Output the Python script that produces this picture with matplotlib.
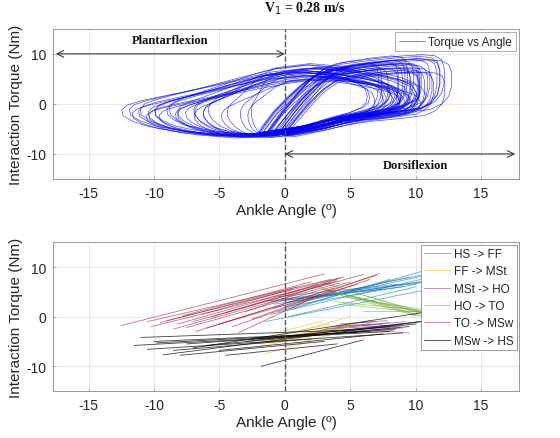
import numpy as np
import matplotlib
matplotlib.use("Agg")
import matplotlib.pyplot as plt

# ---------------- data ----------------
TITLE = "V$_1$ = 0.28 m/s"
XTICKS = [-15, -10, -5, 0, 5, 10, 15]
YTICKS = [-10, 0, 10]

# base gait loop outline (ankle angle, torque)
BASE_X = [-1.0, -0.6, 0.2, 1.2, 2.2, 3.2, 4.5, 6.5, 8.5, 10.3, 11.3, 11.8, 12.0, 12.0,
          11.8, 11.3, 10.5, 8.5, 6.0, 4.0, 2.0, 0.0, -2.0, -5.0, -8.0, -10.0, -11.2,
          -11.9, -12.0, -11.6, -10.6, -9.0, -6.0, -3.0, -0.5, 2.0, 4.5, 7.0, 8.8, 9.8,
          10.2, 10.0, 9.2, 7.5, 5.0, 2.5, 0.8, -0.3, -1.0]
BASE_Y = [-6.0, -4.5, -1.8, 1.2, 3.8, 5.6, 6.5, 7.1, 7.6, 7.9, 7.7, 7.0, 5.5, 3.0,
          1.0, -0.5, -1.5, -2.2, -2.8, -3.6, -4.8, -5.6, -6.3, -6.4, -5.7, -4.8, -3.8,
          -2.7, -1.6, -0.7, 0.1, 1.0, 2.6, 4.3, 5.6, 6.3, 5.8, 4.8, 3.8, 2.8, 1.2,
          0.0, -1.0, -2.0, -3.0, -4.5, -5.5, -6.1, -6.0]

# per-cycle extents / offsets
CYC_LEFT = [12.5, 11.5, 11.3, 11.0, 10.6, 10.2, 10.0, 9.5, 9.2, 8.8, 8.5, 8.0, 7.6, 7.2,
            6.8, 6.3, 5.8, 5.0, 4.2, 3.5, 11.8, 10.8, 9.8, 8.2, 7.0, 6.0, 3.0, 2.5]
CYC_RIGHT = [12.7, 11.4, 10.2, 11.9, 10.0, 9.8, 11.0, 10.4, 9.0, 12.2, 8.5, 10.6, 9.6, 11.6,
             8.0, 10.1, 9.4, 11.2, 7.6, 10.8, 9.9, 12.0, 8.8, 10.3, 11.5, 9.2, 10.5, 7.2]
CYC_DX = [0.2, -0.8, 0.6, -0.3, 1.0, -1.2, 0.4, -0.5, 0.9, -0.1, 0.7, -0.9, 0.1, 1.2,
          -0.6, 0.3, -0.2, 0.8, -1.0, 0.5, -0.4, 1.1, -0.7, 0.0, 0.6, -1.1, 0.9, -0.3]
CYC_DY = [0.5, -0.3, 0.2, 0.8, -0.6, 0.0, 0.4, -0.8, 0.6, 1.0, -0.4, 0.3, -0.2, 0.7,
          -0.5, 0.1, 0.9, -0.7, 0.2, -0.1, 0.6, -0.9, 0.4, -0.3, 0.5, 0.0, -0.6, 0.3]
CYC_SY = [1.05, 0.95, 1.0, 1.1, 0.92, 1.0, 1.08, 0.9, 1.02, 1.12, 0.95, 1.0, 0.93, 1.06,
          0.97, 1.0, 1.1, 0.9, 0.98, 1.0, 1.04, 0.92, 1.0, 0.96, 1.08, 1.0, 0.94, 1.0]

PHASES = ["HS -> FF", "FF -> MSt", "MSt -> HO", "HO -> TO", "TO -> MSw", "MSw -> HS"]
PHASE_COLORS = ["#0072BD", "#EDB120", "#7E2F8E", "#77AC30", "#A2142F", "#000000"]

hsff_x0 = [-1.5, -1.0, -0.5, 0.0, -1.0, -0.8, 0.5, -0.3, 0.2, -1.2, 1.0, -0.5, 0.3, -0.8, 0.0]
hsff_y0 = [-1.0, 0.5, 1.0, 2.0, 3.0, 2.5, 1.5, 3.5, 2.8, 3.2, 3.0, 4.0, 0.0, 1.8, 3.3]
hsff_x1 = [11.0, 12.0, 13.0, 10.0, 9.0, 11.5, 8.0, 10.5, 12.5, 7.5, 9.5, 8.5, 10.0, 12.0, 11.0]
hsff_y1 = [5.5, 8.5, 11.0, 6.5, 6.0, 7.5, 7.5, 7.0, 9.5, 5.5, 8.0, 6.5, 6.0, 9.0, 7.0]

ffmst_x0 = [-2.0, -1.5, -1.0, -0.5, 0.0, -1.8, -1.2, 0.5, -0.8, -1.5, 1.0, -2.2, 0.0, -1.0]
ffmst_y0 = [-5.5, -5.0, -4.8, -4.5, -4.2, -6.0, -5.3, -4.0, -3.8, -7.5, -3.0, -4.8, -6.0, -3.5]
ffmst_x1 = [5.0, 6.0, 4.5, 5.5, 6.5, 3.5, 4.0, 6.8, 3.5, 2.0, 5.0, 4.5, 4.5, 3.0]
ffmst_y1 = [-1.5, -1.0, -2.0, -1.5, -0.8, -3.0, -2.5, -1.2, -1.5, -5.0, 0.0, -2.3, -3.0, -0.8]

msho_x0 = [3.0, 3.5, 4.0, 4.5, 5.0, 5.5, 6.0, 4.2, 5.2, 3.8, 6.5, 4.8, 5.8, 7.0]
msho_y0 = [-2.5, -2.8, -2.2, -3.0, -2.0, -2.6, -1.8, -1.5, -3.2, -2.0, -2.3, -2.7, -1.2, -2.8]
msho_x1 = [8.0, 8.5, 7.5, 9.0, 8.0, 8.8, 9.2, 7.0, 8.3, 6.5, 9.0, 8.0, 7.8, 9.5]
msho_y1 = [-1.8, -2.0, -1.5, -2.3, -1.2, -2.0, -1.0, -1.0, -2.8, -1.5, -1.5, -2.2, -0.8, -3.3]

hoto_x0 = [2.5, 3.0, 3.5, 4.0, 4.5, 5.0, 5.5, 3.8, 4.2, 6.0, 3.0, 4.8]
hoto_y0 = [6.0, 5.5, 5.0, 4.5, 4.0, 4.2, 3.8, 3.0, 2.5, 1.2, 6.8, 5.2]
hoto_x1 = [10.5, 11.0, 11.5, 10.0, 12.0, 11.0, 10.8, 11.5, 10.5, 12.0, 9.5, 11.8]
hoto_y1 = [0.0, 0.5, 0.3, 0.2, 0.8, -0.2, 0.5, 1.0, 0.8, 1.2, 1.5, 0.0]

tomsw_x0 = [-12.5, -10.5, -10.2, -9.0, -8.5, -8.2, -7.5, -7.0, -6.8, -6.0, -5.5, -5.0,
            -4.5, -4.0, -3.5, -3.0, -2.5, -9.5, -7.8, -6.3]
tomsw_y0 = [-1.8, -1.0, -2.0, -0.8, -2.5, -1.5, -2.2, -1.0, -3.0, -2.3, 0.0, -1.5,
            0.8, -2.0, -3.2, 1.0, -0.5, -1.2, 0.2, 0.5]
tomsw_x1 = [3.0, 3.5, 4.0, 4.5, 4.2, 2.5, 5.0, 6.0, 3.8, 7.0, 4.2, 5.5,
            3.5, 6.5, 2.5, 4.0, 7.2, 1.0, 2.0, 0.5]
tomsw_y1 = [8.6, 7.5, 7.2, 8.0, 6.8, 6.5, 7.0, 8.5, 5.8, 8.3, 7.8, 6.5,
            6.8, 7.5, 4.2, 7.5, 8.7, 6.0, 7.0, 5.5]

mswhs_x0 = [-11.0, -11.5, -10.5, -9.3, -8.0, -1.8, -4.5, -7.0, -9.8, -6.0, -5.0, -8.5,
            -3.0, -10.0, -7.5, -2.5]
mswhs_y0 = [-4.2, -5.8, -6.6, -7.7, -7.8, -10.0, -7.8, -6.3, -5.3, -5.8, -6.8, -6.8,
            -5.0, -5.0, -5.5, -4.5]
mswhs_x1 = [5.0, 8.0, 9.0, 10.5, 3.0, 6.0, 4.0, 11.5, 6.5, 9.5, 7.5, 2.0,
            11.0, 5.5, 8.5, 10.0]
mswhs_y1 = [-2.7, -3.0, -3.3, -1.0, -5.0, -4.7, -5.5, 1.2, -3.0, -2.0, -3.5, -4.5,
            -0.8, -3.2, -2.5, -1.5]

SEGMENTS = [
    (hsff_x0, hsff_y0, hsff_x1, hsff_y1),
    (ffmst_x0, ffmst_y0, ffmst_x1, ffmst_y1),
    (msho_x0, msho_y0, msho_x1, msho_y1),
    (hoto_x0, hoto_y0, hoto_x1, hoto_y1),
    (tomsw_x0, tomsw_y0, tomsw_x1, tomsw_y1),
    (mswhs_x0, mswhs_y0, mswhs_x1, mswhs_y1),
]

# ---------------- style ----------------
plt.rcParams['font.family'] = ['Liberation Sans', 'DejaVu Sans']
plt.rcParams['axes.unicode_minus'] = False
TXT = '#262626'
SPINE = '#8c8c8c'
XLIM = (-17.7, 17.9)
YLIM = (-15, 15)

fig = plt.figure(figsize=(5.6, 4.39), dpi=100)
ax1 = fig.add_axes([0.095, 0.590, 0.832, 0.342])
ax2 = fig.add_axes([0.095, 0.107, 0.832, 0.339])


def style(ax):
    ax.set_xlim(*XLIM)
    ax.set_ylim(*YLIM)
    ax.set_xticks(XTICKS)
    ax.set_yticks(YTICKS)
    ax.grid(True, color='#e6e6e6', linewidth=0.6)
    ax.set_axisbelow(True)
    for s in ax.spines.values():
        s.set_color(SPINE)
        s.set_linewidth(0.6)
    ax.tick_params(direction='in', length=2.5, width=0.5, color=SPINE,
                   labelsize=10, labelcolor=TXT, pad=5)
    ax.set_xlabel('Ankle Angle (º)', fontsize=11, color=TXT, labelpad=2)
    ax.set_ylabel('Interaction Torque (Nm)', fontsize=11, color=TXT, labelpad=2)
    ax.axvline(0, color='#555555', linestyle='--', linewidth=1.0, zorder=5)


# ---------------- top panel ----------------
style(ax1)
bx = np.array(BASE_X)
by = np.array(BASE_Y)
for i, (L, R, dx, dy, sy) in enumerate(zip(CYC_LEFT, CYC_RIGHT, CYC_DX, CYC_DY, CYC_SY)):
    xs = np.where(bx > 3, 3 + (bx - 3) * (R - 3) / 9.0,
                  np.where(bx < -1, -1 + (bx + 1) * (L - 1) / 11.0, bx))
    xs = xs + dx * np.clip(1 - np.abs(bx) / 12.0, 0.2, 1)
    ys = by * sy + dy
    ax1.plot(xs, ys, color='#0000ff', linewidth=0.5, alpha=0.7,
             label='Torque vs Angle' if i == 0 else None)

leg1 = ax1.legend(loc='upper right', fontsize=8.5, frameon=True, fancybox=False,
                  borderaxespad=0.3, handlelength=2.2, handletextpad=0.3,
                  borderpad=0.3)
leg1.get_frame().set_edgecolor(SPINE)
leg1.get_frame().set_linewidth(0.6)
for t in leg1.get_texts():
    t.set_color(TXT)

arrow_kw = dict(arrowstyle='<->', color='#3a3a3a', lw=0.8,
                shrinkA=0, shrinkB=0, mutation_scale=12)
ax1.annotate('', xy=(-17.5, 10), xytext=(0, 10), arrowprops=arrow_kw, zorder=6)
ax1.annotate('', xy=(0, -10), xytext=(17.6, -10), arrowprops=arrow_kw, zorder=6)
ax1.text(-8.8, 12.8, 'Plantarflexion', family=['Liberation Serif'], weight='bold',
         fontsize=9, ha='center', va='center', color='#111111')
ax1.text(9.95, -12.2, 'Dorsiflexion', family=['Liberation Serif'], weight='bold',
         fontsize=9, ha='center', va='center', color='#111111')
fig.text(0.545, 0.981, TITLE, family=['Liberation Serif'], weight='bold',
         fontsize=10, ha='center', va='center', color='#111111')

# ---------------- bottom panel ----------------
style(ax2)
for name, col, (x0, y0, x1, y1) in zip(PHASES, PHASE_COLORS, SEGMENTS):
    alpha = 0.75 if col == '#000000' else 0.6
    for j in range(len(x0)):
        ax2.plot([x0[j], x1[j]], [y0[j], y1[j]], color=col, linewidth=0.6,
                 alpha=alpha, label=name if j == 0 else None)

leg2 = ax2.legend(loc='upper right', fontsize=8.5, frameon=True, fancybox=False,
                  borderaxespad=0.2, handlelength=2.2, handletextpad=0.3,
                  borderpad=0.3, labelspacing=0.45, framealpha=1)
leg2.get_frame().set_edgecolor(SPINE)
leg2.get_frame().set_linewidth(0.6)
leg2.set_zorder(10)
for t in leg2.get_texts():
    t.set_color(TXT)

fig.savefig('out.png', dpi=100)
